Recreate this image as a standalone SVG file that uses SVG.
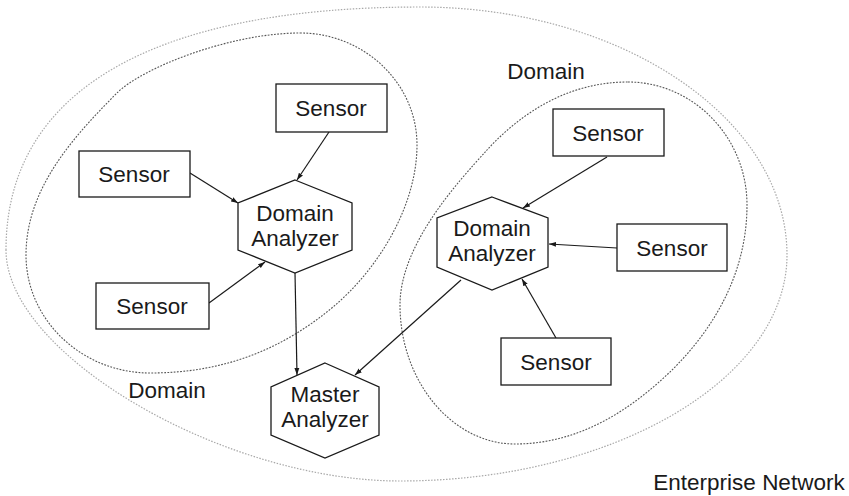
<svg xmlns="http://www.w3.org/2000/svg" width="849" height="496" viewBox="0 0 849 496">
  <defs>
    <marker id="arrow" viewBox="0 0 10 10" refX="10" refY="5" markerWidth="7" markerHeight="7" orient="auto" markerUnits="userSpaceOnUse">
      <path d="M0,1.5 L10,5 L0,8.5 Z" fill="#1a1a1a"/>
    </marker>
    <style>
      .region-outer { fill: none; stroke: #a8a8a8; stroke-width: 1.2; stroke-dasharray: 1.5 1.5; }
      .region { fill: none; stroke: #555; stroke-width: 1.1; stroke-dasharray: 1.8 1.4; }
      .box { fill: #fff; stroke: #1a1a1a; stroke-width: 1.3; }
      .hex { fill: #fff; stroke: #1a1a1a; stroke-width: 1.3; }
      .label { font-family: "Liberation Sans", Arial, sans-serif; font-size: 22.5px; fill: #1a1a1a; text-anchor: middle; }
      .edge { fill: none; stroke: #1a1a1a; stroke-width: 1.2; marker-end: url(#arrow); }
    </style>
  </defs>

  <rect width="849" height="496" fill="#fff"/>

  <!-- network and domain boundaries -->
  <g id="boundaries">
    <path class="region-outer" d="M6,250 C6,92 151,7 420,7 C622,7 787,119 787,255 C787,379 613,481 400,481 C223,481 6,354 6,250 Z"/>
    <path class="region" d="M300,33 C364,33 417,83 417,145 C417,205 379,268.5 333,307 C279,352 220,373 150,373 C82,373 26,320 26,255 C26,190 71,139 117,93 C142,68 230,33 300,33 Z"/>
    <path class="region" d="M628,82 C693,82 747,137 747,205 C747,285 701,352 637,400 C601,427 560,444 515,444 C452,444 400,381 400,305 C400,245 457,183 487,150 C521,113 568,82 628,82 Z"/>
    <text class="label" x="546" y="79">Domain</text>
    <text class="label" x="167" y="398">Domain</text>
    <text class="label" x="749" y="490">Enterprise Network</text>
  </g>

  <!-- connectors -->
  <g id="connectors">
    <line class="edge" x1="329" y1="132" x2="297" y2="180"/>
    <line class="edge" x1="190" y1="173" x2="238" y2="203"/>
    <line class="edge" x1="209" y1="303" x2="265" y2="262"/>
    <line class="edge" x1="295" y1="273" x2="297" y2="375"/>
    <line class="edge" x1="461" y1="280" x2="355" y2="375"/>
    <line class="edge" x1="607" y1="157" x2="523" y2="208"/>
    <line class="edge" x1="617" y1="248" x2="549" y2="244"/>
    <line class="edge" x1="556" y1="338" x2="522" y2="279"/>
  </g>

  <!-- left domain -->
  <g id="sensor-l1">
    <rect class="box" x="276" y="84" width="111" height="48"/>
    <text class="label" x="331" y="116">Sensor</text>
  </g>
  <g id="sensor-l2">
    <rect class="box" x="79" y="151" width="111" height="46"/>
    <text class="label" x="134" y="182">Sensor</text>
  </g>
  <g id="sensor-l3">
    <rect class="box" x="96" y="283" width="113" height="46"/>
    <text class="label" x="152" y="314">Sensor</text>
  </g>
  <g id="domain-analyzer-left">
    <polygon class="hex" points="295,180 352,203 352,250 295,273 238,250 238,203"/>
    <text class="label" x="295" y="221">Domain</text>
    <text class="label" x="295" y="246">Analyzer</text>
  </g>

  <!-- right domain -->
  <g id="sensor-r1">
    <rect class="box" x="553" y="109" width="111" height="47"/>
    <text class="label" x="608" y="141">Sensor</text>
  </g>
  <g id="sensor-r2">
    <rect class="box" x="617" y="224" width="110" height="47"/>
    <text class="label" x="672" y="256">Sensor</text>
  </g>
  <g id="sensor-r3">
    <rect class="box" x="501" y="338" width="110" height="47"/>
    <text class="label" x="556" y="370">Sensor</text>
  </g>
  <g id="domain-analyzer-right">
    <polygon class="hex" points="492,197 548,218 548,267 492,290 437,267 437,218"/>
    <text class="label" x="492" y="236">Domain</text>
    <text class="label" x="492" y="261">Analyzer</text>
  </g>

  <!-- enterprise level -->
  <g id="master-analyzer">
    <polygon class="hex" points="325,363 379,387 379,435 325,458 271,435 271,387"/>
    <text class="label" x="325" y="402">Master</text>
    <text class="label" x="325" y="427">Analyzer</text>
  </g>
</svg>
